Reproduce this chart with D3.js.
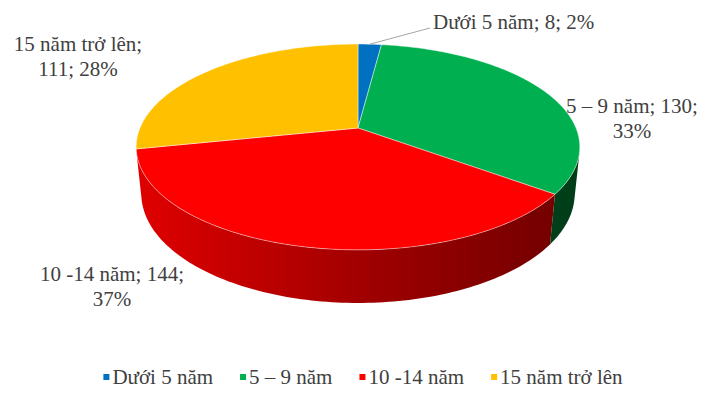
<!DOCTYPE html>
<html>
<head>
<meta charset="utf-8">
<script src="https://cdn.jsdelivr.net/npm/d3@7"></script>
</head>
<body style="margin:0">
<svg id="chart" width="709" height="396" style="font-family: 'Liberation Serif', serif"></svg>
<script>
const categories = ["Dưới 5 năm", "5 – 9 năm", "10 -14 năm", "15 năm trở lên"];
const values = [8, 130, 144, 111];
const colors = ["#0070C0", "#00B050", "#FF0000", "#FFC000"];
const wallColors = [["#0a5a9a", "#063a66"], ["#00682c", "#003d18"], ["#e00000", "#6e0000"], ["#d9a000", "#8a6500"]];

// label lines and anchor points (layout only)
const labelLines = [
    ["Dưới 5 năm; 8; 2%"],
    ["5 – 9 năm; 130;", "33%"],
    ["10 -14 năm; 144;", "37%"],
    ["15 năm trở lên;", "111; 28%"]
];
const labelPos = [[433, 29, "start"], [632, 113, "middle"], [112, 281, "middle"], [78, 51, "middle"]];

const svg = d3.select("#chart");

// simple perspective camera for the tilted pie
const cx = 358, cy = 128;
const D = 4.83, f = 1053, alpha = Math.asin(0.456), depth = 0.244;

function project(x, y, z) {
    const yc = z * Math.sin(alpha) + y * Math.cos(alpha);
    const w = D + z * Math.cos(alpha) - y * Math.sin(alpha);
    return [cx + f * x / w, cy - f * yc / w];
}
const rim = (t, y) => project(Math.sin(t), y, Math.cos(t));

const pie = d3.pie().sort(null).value(d => d);
const arcs = pie(values);

const line = d3.line();
function arcPoints(t0, t1, y) {
    const n = Math.max(2, Math.ceil((t1 - t0) / 0.02));
    return d3.range(n + 1).map(i => rim(t0 + (t1 - t0) * i / n, y));
}

// visible range of the outer wall
const k = 1 / (D * Math.cos(alpha));
const tMin = Math.PI / 2 + Math.asin(k), tMax = 2 * Math.PI - tMin;

const defs = svg.append("defs");
const xLeft = rim(tMax, 0)[0], xRight = rim(tMin, 0)[0];

arcs.forEach((a, i) => {
    const g = defs.append("linearGradient")
        .attr("id", "wall" + i)
        .attr("gradientUnits", "userSpaceOnUse")
        .attr("x1", xLeft).attr("x2", xRight)
        .attr("y1", 0).attr("y2", 0);
    g.append("stop").attr("offset", 0).attr("stop-color", wallColors[i][0]);
    g.append("stop").attr("offset", 0.55).attr("stop-color", d3.interpolateRgb(wallColors[i][0], wallColors[i][1])(0.6));
    g.append("stop").attr("offset", 1).attr("stop-color", wallColors[i][1]);
});

// walls
arcs.forEach((a, i) => {
    const t0 = Math.max(a.startAngle, tMin), t1 = Math.min(a.endAngle, tMax);
    if (t1 <= t0) return;
    const pts = arcPoints(t0, t1, 0).concat(arcPoints(t0, t1, -depth).reverse());
    svg.append("path")
        .attr("d", line(pts) + "Z")
        .attr("fill", `url(#wall${i})`)
        .attr("stroke", "none");
});

// top faces
const apex = project(0, 0, 0);
arcs.forEach((a, i) => {
    const pts = [apex].concat(arcPoints(a.startAngle, a.endAngle, 0));
    svg.append("path")
        .attr("d", line(pts) + "Z")
        .attr("fill", colors[i])
        .attr("stroke", "#ffffff")
        .attr("stroke-opacity", 0.55)
        .attr("stroke-width", 0.8)
        .attr("stroke-linejoin", "round");
});

// leader for the small slice
const blue = arcs[0];
const lp = rim((blue.startAngle + blue.endAngle) / 2, 0);
svg.append("path")
    .attr("d", line([lp, [labelPos[0][0] - 3, labelPos[0][1] - 1]]))
    .attr("stroke", "#a6a6a6")
    .attr("stroke-width", 1)
    .attr("fill", "none");

// data labels
labelLines.forEach((lines, i) => {
    lines.forEach((s, j) => {
        svg.append("text")
            .attr("x", labelPos[i][0])
            .attr("y", labelPos[i][1] + j * 25)
            .attr("text-anchor", labelPos[i][2])
            .style("font-family", "'Liberation Serif', serif")
            .style("font-size", "21px")
            .attr("fill", "#404040")
            .text(s);
    });
});

// legend
const legend = svg.append("g");
let lx = 0;
categories.forEach((c, i) => {
    const item = legend.append("g").attr("transform", `translate(${lx},0)`);
    item.append("rect")
        .attr("x", 0).attr("y", -3)
        .attr("width", 6).attr("height", 6)
        .attr("fill", colors[i]);
    const txt = item.append("text")
        .attr("x", 9)
        .attr("y", 7)
        .style("font-family", "'Liberation Serif', serif")
        .style("font-size", "21px")
        .attr("fill", "#404040")
        .text(c);
    lx += 9 + txt.node().getComputedTextLength() + 27;
});
lx -= 27;
legend.attr("transform", `translate(${363 - lx / 2},377)`);
</script>
</body>
</html>
